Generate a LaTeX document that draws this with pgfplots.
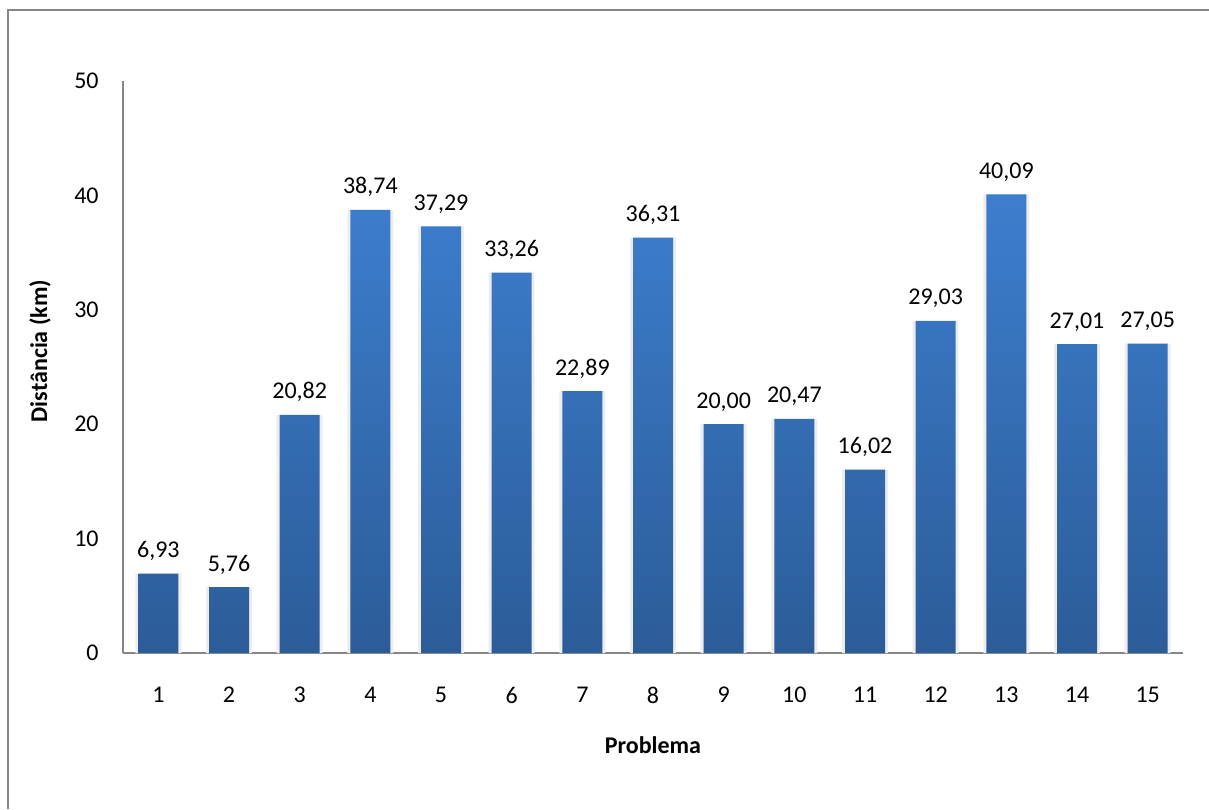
\documentclass[border=0pt]{standalone}
\usepackage{fontspec}
\setmainfont{Carlito}
\usepackage{pgfplots}
\pgfplotsset{compat=1.18}
\definecolor{bartop}{RGB}{60,126,206}
\definecolor{barbot}{RGB}{44,92,152}
\definecolor{axgray}{RGB}{134,134,134}
\begin{document}
\fontsize{12}{14}\selectfont
\begin{tikzpicture}
\useasboundingbox (0,0) rectangle (604.5pt,-404.5pt);
\draw[axgray, line width=1pt] (4pt,-404.5pt) -- (4pt,-5pt) -- (604.5pt,-5pt);
\begin{axis}[
  at={(61.5pt,-326.5pt)}, anchor=south west,
  scale only axis, width=530pt, height=286pt,
  xmin=0.5, xmax=15.5, ymin=0, ymax=50,
  axis x line*=bottom, axis y line*=left,
  axis line style={axgray, line width=0.9pt, -},
  xtick={1,...,15}, ytick={0,10,...,50},
  major tick length=0pt, tick style={draw=none},
  /pgf/number format/assume math mode=true,
  xticklabel style={yshift=-13pt, font=\fontsize{12}{14}\selectfont},
  yticklabel style={xshift=-8pt, font=\fontsize{12}{14}\selectfont},
  every axis x label/.style={at={(axis description cs:0.5,0)}, yshift=-46pt, anchor=center},
  every axis y label/.style={at={(axis description cs:-0.0783,0.528)}, rotate=90, anchor=center},
  xlabel={\bfseries Problema},
  ylabel={\bfseries Distância (km)},
  label style={font=\fontsize{12}{14}\selectfont},
  clip=false,
]
\addplot[ybar, bar width=23pt, bar shift=0pt, fill=black!7, draw=none] coordinates {
(1,6.93) (2,5.76) (3,20.82) (4,38.74) (5,37.29) (6,33.26) (7,22.89) (8,36.31)
(9,20.00) (10,20.47) (11,16.02) (12,29.03) (13,40.09) (14,27.01) (15,27.05)};
\addplot[ybar, bar width=20pt, bar shift=0pt, draw=none, top color=bartop, bottom color=barbot,
  nodes near coords={\pgfmathprintnumber[fixed,fixed zerofill,precision=2,use comma]{\pgfplotspointmeta}},
  every node near coord/.append style={anchor=base, yshift=8pt, text=black, font=\fontsize{12}{14}\selectfont}]
coordinates {
(1,6.93) (2,5.76) (3,20.82) (4,38.74) (5,37.29) (6,33.26) (7,22.89) (8,36.31)
(9,20.00) (10,20.47) (11,16.02) (12,29.03) (13,40.09) (14,27.01) (15,27.05)};
\end{axis}
\end{tikzpicture}
\end{document}
